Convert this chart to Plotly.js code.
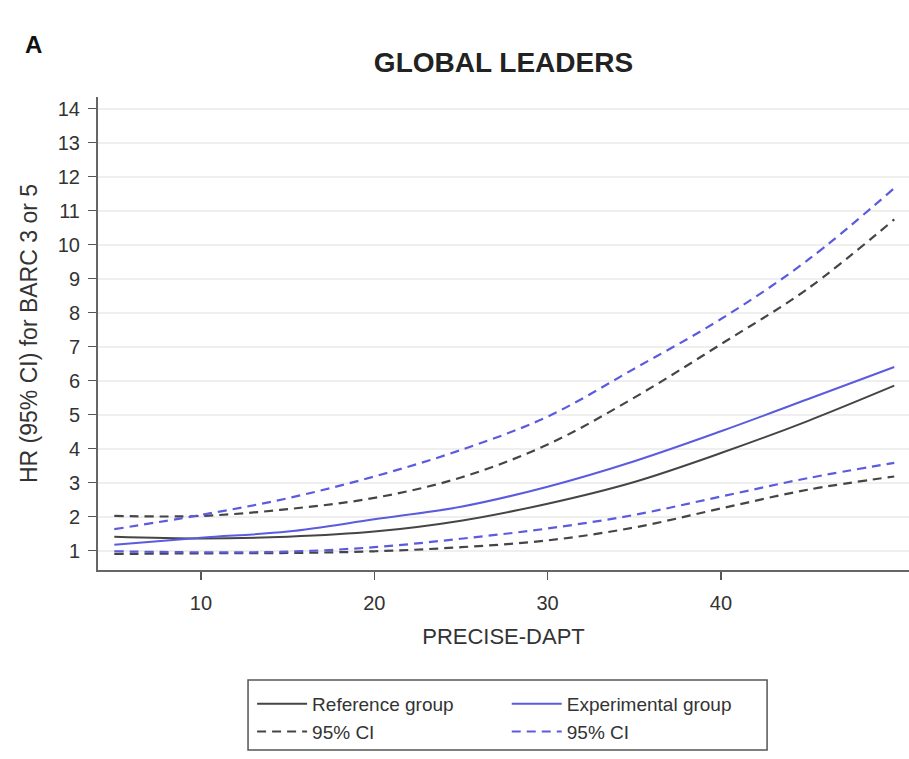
<!DOCTYPE html>
<html>
<head>
<meta charset="utf-8">
<script src="https://cdn.plot.ly/plotly-3.0.1.min.js"></script>
<style>html,body{margin:0;padding:0;background:#fff;}#chart{width:909px;height:759px;}</style>
</head>
<body>
<div id="chart"></div>
<script>
// PRECISE-DAPT score
var precise = [5, 10, 15, 20, 25, 30, 35, 40, 45, 50];
// Reference group HR and 95% CI
var refHR  = [1.41, 1.36, 1.41, 1.56, 1.88, 2.38, 3.02, 3.87, 4.81, 5.85];
var refLow = [0.90, 0.92, 0.93, 0.98, 1.10, 1.30, 1.68, 2.24, 2.79, 3.18];
var refUp  = [2.02, 2.02, 2.22, 2.55, 3.15, 4.12, 5.50, 7.07, 8.70, 10.74];
// Experimental group HR and 95% CI
var expHR  = [1.17, 1.38, 1.56, 1.92, 2.29, 2.88, 3.63, 4.51, 5.45, 6.40];
var expLow = [0.98, 0.95, 0.97, 1.10, 1.35, 1.65, 2.05, 2.59, 3.13, 3.58];
var expUp  = [1.63, 2.05, 2.54, 3.18, 3.96, 4.94, 6.35, 7.81, 9.54, 11.66];
var yTicks = [1,2,3,4,5,6,7,8,9,10,11,12,13,14];
var xTicks = [10, 20, 30, 40];

var refColor = '#454545';
var expColor = '#5b5be0';
var dashStyle = '9px,6px';
var F = 'Liberation Sans, Arial, sans-serif';

var traces = [
  {x: precise, y: refUp, mode: 'lines', line: {color: refColor, width: 2.2, dash: dashStyle, shape: 'spline'}, showlegend: false, legend: 'legend'},
  {x: precise, y: refLow, mode: 'lines', line: {color: refColor, width: 2.2, dash: dashStyle, shape: 'spline'}, showlegend: false, legend: 'legend'},
  {x: precise, y: expUp, mode: 'lines', line: {color: expColor, width: 2.2, dash: dashStyle, shape: 'spline'}, showlegend: false, legend: 'legend2'},
  {x: precise, y: expLow, mode: 'lines', line: {color: expColor, width: 2.2, dash: dashStyle, shape: 'spline'}, showlegend: false, legend: 'legend2'},
  {x: precise, y: refHR, name: 'Reference group', mode: 'lines', line: {color: refColor, width: 2, shape: 'spline'}, legend: 'legend', legendrank: 1},
  {x: precise, y: expHR, name: 'Experimental group', mode: 'lines', line: {color: expColor, width: 2, shape: 'spline'}, legend: 'legend2', legendrank: 1},
  {x: [null], y: [null], name: '95% CI', mode: 'lines', line: {color: refColor, width: 2, dash: dashStyle}, legend: 'legend', legendrank: 2},
  {x: [null], y: [null], name: '95% CI', mode: 'lines', line: {color: expColor, width: 2, dash: dashStyle}, legend: 'legend2', legendrank: 2}
];

var legBase = {
  orientation: 'v', xanchor: 'left', yanchor: 'top', yref: 'paper', xref: 'paper',
  bgcolor: 'rgba(0,0,0,0)', borderwidth: 0, font: {family: F, size: 19, color: '#333'},
  tracegroupgap: 0, itemwidth: 50
};
var legend1 = Object.assign({}, legBase, {x: 0.19, y: -0.243});
var legend2 = Object.assign({}, legBase, {x: 0.504, y: -0.243});

var layout = {
  width: 909, height: 759,
  margin: {l: 98, r: 0, t: 97, b: 189},
  paper_bgcolor: '#fff', plot_bgcolor: '#fff',
  font: {family: F, color: '#333'},
  title: {text: '<b>GLOBAL LEADERS</b>', font: {family: F, size: 28, color: '#222'},
          x: 0.5, xref: 'paper', xanchor: 'center', y: 0.918, yref: 'container', yanchor: 'middle'},
  xaxis: {
    range: [4.06, 50.85], tickvals: xTicks, ticktext: xTicks.map(String),
    ticks: 'outside', ticklen: 8, tickwidth: 1.5, tickcolor: '#555', ticklabelstandoff: 6,
    showline: true, linecolor: '#666', linewidth: 2, showgrid: false, zeroline: false,
    tickfont: {family: F, size: 20, color: '#333'},
    title: {text: 'PRECISE-DAPT', font: {family: F, size: 22, color: '#333'}, standoff: 16}
  },
  yaxis: {
    range: [0.43, 14.34], tickvals: yTicks, ticktext: yTicks.map(String),
    ticks: 'outside', ticklen: 8, tickwidth: 1.5, tickcolor: '#555', ticklabelstandoff: 4,
    showline: true, linecolor: '#666', linewidth: 2, showgrid: true, gridcolor: '#efefef', gridwidth: 2,
    zeroline: false, tickfont: {family: F, size: 20, color: '#333'},
    title: {text: 'HR (95% CI) for BARC 3 or 5', font: {family: F, size: 23, color: '#333'}, standoff: 14}
  },
  legend: legend1,
  legend2: legend2,
  shapes: [
    {type: 'rect', xref: 'paper', yref: 'paper', x0: 0.185, x1: 0.825, y0: -0.2326, y1: -0.3805,
     line: {color: '#555', width: 1.5}, fillcolor: 'rgba(0,0,0,0)'}
  ],
  annotations: [
    {text: '<b>A</b>', xref: 'paper', yref: 'paper', x: -0.08, y: 1.11, xanchor: 'center', yanchor: 'middle',
     showarrow: false, font: {family: F, size: 24, color: '#111'}}
  ]
};

Plotly.newPlot('chart', traces, layout, {displayModeBar: false, staticPlot: true});
</script>
</body>
</html>
